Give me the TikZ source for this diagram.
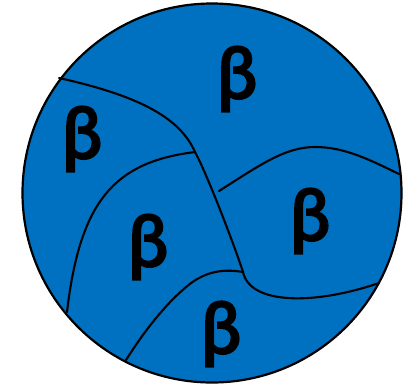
\documentclass[tikz,border=0pt]{standalone}
\usepackage{fontspec}
\setmainfont{Carlito}
\newfontfamily\grainfont{Carlito}[FakeBold=3]
\usepackage{tikz}
\definecolor{grainblue}{RGB}{0,112,192}

\begin{document}
\begin{tikzpicture}[
  x=1pt, y=-1pt,
  disc/.style={circle, draw, line width=2.2pt, fill=grainblue, minimum size=379pt, inner sep=0pt},
  boundary/.style={line width=2.1pt, line cap=round},
  grain/.style={font=\grainfont\fontsize{76}{76}\selectfont, inner sep=0pt},
]
\useasboundingbox (0,0) rectangle (419,385);
\node[disc] (disc) at (212,193) {};

% triple points and ends on the rim
\coordinate (tj1) at (195,152);
\coordinate (tj2) at (243,272);
\coordinate (rimA) at (59,78);
\coordinate (rimB) at (379,283);
\coordinate (rimC) at (67,312);
\coordinate (rimD) at (399,174);
\coordinate (rimE) at (126,360);
\coordinate (tip) at (219,191);

\draw[boundary] (rimA) .. controls (140,96) and (180,118) .. (tj1)
  .. controls (208,176) and (236,250) .. (tj2)
  .. controls (250,305) and (315,305) .. (rimB);
\draw[boundary] (tj1) .. controls (115,162) and (80,200) .. (rimC);
\draw[boundary] (tip) .. controls (260,165) and (285,147) .. (315,147)
  .. controls (345,147) and (370,160) .. (rimD);
\draw[boundary] (tj2) .. controls (225,269) and (205,270) .. (185,288)
  .. controls (165,305) and (145,330) .. (rimE);

\node[grain] (gtop) at (237,79) {β};
\node[grain] (gleft) at (82,139) {β};
\node[grain] (gmid) at (148,247) {β};
\node[grain] (gright) at (310,221) {β};
\node[grain] (gbot) at (221,334) {β};
\end{tikzpicture}
\end{document}
